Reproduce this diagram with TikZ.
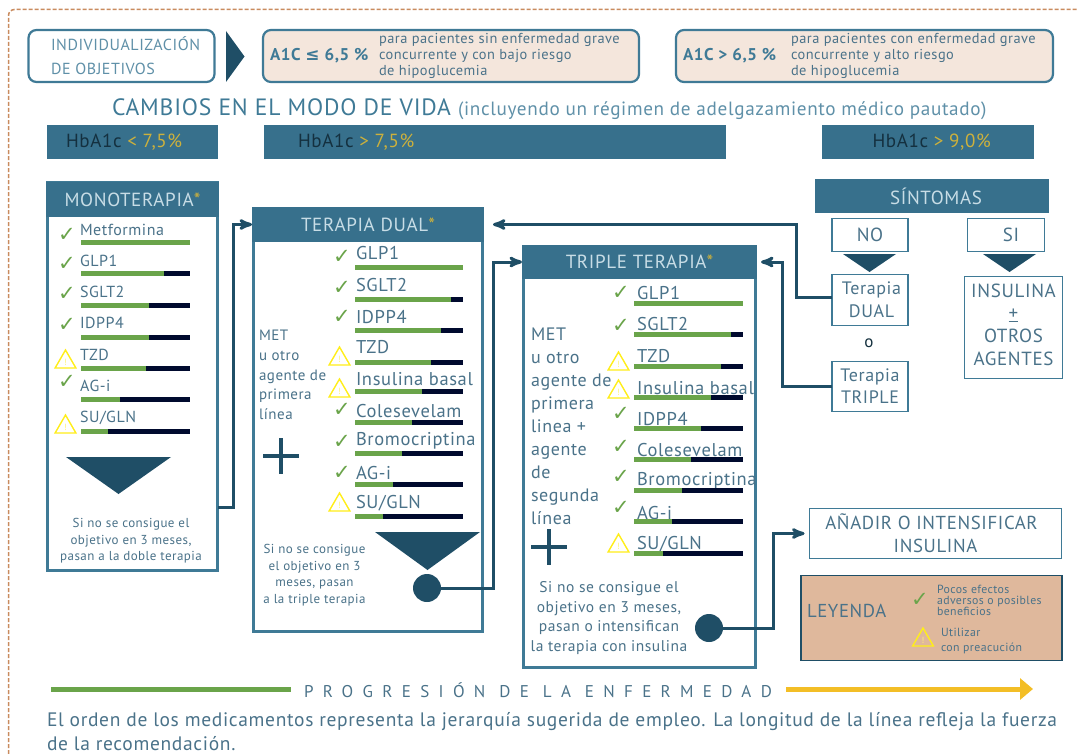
\documentclass[tikz,border=0pt]{standalone}
\usepackage{fontspec}
\setmainfont[LetterSpace=3.4]{PT Sans}
\newfontfamily\symfont{DejaVu Sans}
\newfontfamily\spacedfont[LetterSpace=55]{PT Sans}
\usepackage{tikz}
\usetikzlibrary{arrows,arrows.meta,positioning,shapes.geometric}

\definecolor{headblue}{HTML}{37708C}
\definecolor{darkblue}{HTML}{1F4E66}
\definecolor{edgeblue}{HTML}{3F7A96}
\definecolor{textblue}{HTML}{4A7289}
\definecolor{lightblue}{HTML}{5F90A8}
\definecolor{headtext}{HTML}{C8DDE6}
\definecolor{hbatext}{HTML}{14303F}
\definecolor{staryellow}{HTML}{CDB13C}
\definecolor{bargreen}{HTML}{6AA44A}
\definecolor{barnavy}{HTML}{000A2E}
\definecolor{warnyellow}{HTML}{FFEE1A}
\definecolor{pillfill}{HTML}{F4E6DC}
\definecolor{legendfill}{HTML}{DFB89C}
\definecolor{dashorange}{HTML}{C98B5E}
\definecolor{arrowyellow}{HTML}{F3BE26}

\tikzset{
  sz/.style 2 args={font=\fontsize{#1}{#2}\selectfont},
  txt/.style={inner sep=0pt,outer sep=0pt,text=textblue},
  lefttxt/.style={txt,anchor=west,align=left},
  midtxt/.style={txt,align=center},
  pill/.style={anchor=north west,rounded corners=8pt,draw=edgeblue,line width=2.2pt,inner sep=0pt,outer sep=0pt,minimum height=52pt},
  band/.style={anchor=north west,fill=headblue,inner sep=0pt,outer sep=0pt,text=headtext},
  panel/.style={anchor=north west,draw=edgeblue,fill=white,line width=3pt,inner sep=0pt,outer sep=0pt},
  tagbox/.style={anchor=north west,draw=edgeblue,line width=1.5pt,inner sep=0pt,outer sep=0pt,text=textblue,align=center},
  okmark/.style={inner sep=0pt,outer sep=0pt,text=bargreen,font=\symfont\fontsize{21}{21}\selectfont},
  warnmark/.style={regular polygon,regular polygon sides=3,minimum size=24pt,inner sep=0pt,outer sep=0pt,draw=warnyellow,line width=1.4pt,text=warnyellow!60!white,font=\fontsize{9}{9}\selectfont},
  pointer/.style={fill=darkblue},
  dot/.style={circle,fill=darkblue,minimum size=28pt,inner sep=0pt,outer sep=0pt},
  link/.style={->,>=stealth',draw=darkblue,line width=3pt,rounded corners=0pt}
}

\begin{document}
\begin{tikzpicture}[x=1pt,y=-1pt]
  \useasboundingbox (0,0) rectangle (1078,754);

  \draw[dashorange,line width=1.5pt,dash pattern=on 4pt off 2pt,rounded corners=6pt] (8.5,754) -- (8.5,9.5) -- (1078,9.5);

  \node [pill,minimum width=186pt,fill=white] (goals) at (28.5,30) {};
  \node [lefttxt,sz={16}{24},text=lightblue] (goalstxt) [right=22.5pt of goals.west] {INDIVIDUALIZACIÓN\\DE OBJETIVOS};
  \fill[pointer] (226,31) -- (244.5,56.5) -- (226,82) -- cycle;

  \node [pill,minimum width=376pt,fill=pillfill] (pilla) at (263,30) {};
  \node [lefttxt,sz={17}{17},text=edgeblue] (pillaval) [right=7pt of pilla.west] {\bfseries A1C {\symfont ≤} 6,5 \%};
  \node [lefttxt,sz={14.4}{16.3}] (pillatxt) [right=116pt of pilla.west] {para pacientes sin enfermedad grave\\concurrente y con bajo riesgo\\de hipoglucemia};
  \node [pill,minimum width=377pt,fill=pillfill] (pillb) at (676,30) {};
  \node [lefttxt,sz={17}{17},text=edgeblue] (pillbval) [right=7pt of pillb.west] {\bfseries A1C > 6,5 \%};
  \node [lefttxt,sz={14.4}{16.3}] (pillbtxt) [right=115pt of pillb.west] {para pacientes con enfermedad grave\\concurrente y alto riesgo\\de hipoglucemia};

  \node [lefttxt,text=edgeblue] (lifestyle) at (112,109) {\fontsize{23.6}{24}\selectfont CAMBIOS EN EL MODO DE VIDA \textcolor{lightblue}{\fontsize{19.2}{20}\selectfont (incluyendo un régimen de adelgazamiento médico pautado)}};

  \node [band,minimum width=171pt,minimum height=34pt] (hba) at (47,125) {};
  \node [lefttxt,sz={19}{19},text=hbatext] (hbatxt) [right=19pt of hba.west,yshift=-0.5pt] {HbA1c \textcolor{staryellow}{< 7,5\%}};
  \node [band,minimum width=462pt,minimum height=34pt] (hbb) at (264,125) {};
  \node [lefttxt,sz={19}{19},text=hbatext] (hbbtxt) [right=34pt of hbb.west,yshift=-0.5pt] {HbA1c \textcolor{staryellow}{> 7,5\%}};
  \node [band,minimum width=212pt,minimum height=34pt] (hbc) at (821.5,125) {};
  \node [lefttxt,sz={19}{19},text=hbatext] (hbctxt) [right=51pt of hbc.west,yshift=-0.5pt] {HbA1c \textcolor{staryellow}{> 9,0\%}};

  \node [panel,minimum width=170pt,minimum height=387pt] (mono) at (47.5,183) {};
  \node [band,minimum width=173pt,minimum height=35pt,sz={19}{19}] (monohead) at (46,182) {MONOTERAPIA\textcolor{staryellow}{*}};
  \foreach \lab/\ly/\by/\gx [count=\i] in {Metformina/230/240/190,GLP1/261/271/164,SGLT2/292/303/149,IDPP4/323/335/149,TZD/355/366/146,AG-i/386/397/120,{SU/GLN}/418/429/108}{
    \node [lefttxt,sz={16}{16}] (monolab\i) at (80,\ly) {\lab};
    \fill[barnavy] (81,\by) rectangle (190,\by+5);
    \fill[bargreen] (81,\by) rectangle (\gx,\by+5);
  }
  \foreach \y [count=\i] in {235,264,294,325,382}{
    \node [okmark] (monook\i) at (67,\y) {✓};
  }
  \foreach \y [count=\i] in {362,427}{
    \node [warnmark] (monowarn\i) at (65.5,\y) {!};
  }
  \fill[pointer] (66,457) -- (171,457) -- (118.5,494) -- cycle;
  \node [midtxt,sz={13}{16.5}] (monotxt) at (131,541) {Si no se consigue el\\objetivo en 3 meses,\\pasan a la doble terapia};
  \coordinate (monoout) at (218,507);

  \node [panel,minimum width=229pt,minimum height=423pt] (dual) at (253.5,208.5) {};
  \node [band,minimum width=232pt,minimum height=35pt,sz={19}{19}] (dualhead) at (252,207) {TERAPIA DUAL\textcolor{staryellow}{*}};
  \foreach \lab/\ly/\by/\gx [count=\i] in {GLP1/253/265/463,SGLT2/285/297/451,IDPP4/317/328/441,TZD/347/360/431,Insulina basal/379/389/422,Colesevelam/411/420/412,Bromocriptina/441/451/402,AG-i/473/482/393,{SU/GLN}/503/514/383}{
    \node [lefttxt,sz={18.5}{18.5}] (duallab\i) at (356,\ly) {\lab};
    \fill[barnavy] (355,\by) rectangle (463,\by+5);
    \fill[bargreen] (355,\by) rectangle (\gx,\by+5);
  }
  \foreach \y [count=\i] in {257,288,317,410,442,473}{
    \node [okmark] (dualok\i) at (342,\y) {✓};
  }
  \foreach \y [count=\i] in {359,391,505}{
    \node [warnmark] (dualwarn\i) at (339.5,\y) {!};
  }
  \node [lefttxt,sz={15}{19.7}] (dualmet) at (259,375) {MET\\u otro\\agente de\\primera\\línea};
  \draw[pointer,draw=darkblue,line width=4pt] (263,456) -- (299,456) (281,438) -- (281,474);
  \fill[pointer] (375,532) -- (480,532) -- (427.5,570) -- cycle;
  \node [dot] (dualdot) at (427,588) {};
  \node [midtxt,sz={13}{16.5}] (dualtxt) at (314.5,575) {Si no se consigue\\el objetivo en 3\\meses, pasan\\a la triple terapia};

  \node [panel,minimum width=232pt,minimum height=421pt] (triple) at (523.5,246.5) {};
  \node [band,minimum width=235pt,minimum height=34pt,sz={19}{19}] (triplehead) at (522,245) {TRIPLE TERAPIA\textcolor{staryellow}{*}};
  \foreach \lab/\ly/\by/\gx [count=\i] in {GLP1/293/301/743,SGLT2/324/332/731,TZD/356/364/721,Insulina basal/388/395/711,IDPP4/419/426/701,Colesevelam/450/457/691,Bromocriptina/481/488/682,AG-i/513/519/672,{SU/GLN}/544/551/663}{
    \node [lefttxt,sz={18.5}{18.5}] (triplelab\i) at (637,\ly) {\lab};
    \fill[barnavy] (634,\by) rectangle (743,\by+5);
    \fill[bargreen] (634,\by) rectangle (\gx,\by+5);
  }
  \foreach \y [count=\i] in {293,326,414,447,477,508}{
    \node [okmark] (tripleok\i) at (621,\y) {✓};
  }
  \foreach \y [count=\i] in {364,392,546}{
    \node [warnmark] (triplewarn\i) at (618.5,\y) {!};
  }
  \node [lefttxt,sz={18}{23}] (triplemet) at (531,426) {MET\\u otro\\agente de\\primera\\linea +\\agente\\de\\segunda\\línea};
  \draw[pointer,draw=darkblue,line width=4pt] (531,547) -- (567,547) (549,529) -- (549,565);
  \node [midtxt,sz={15.5}{19.7}] (tripletxt) at (609,618) {Si no se consigue el\\objetivo en 3 meses,\\pasan o intensifican\\la terapia con insulina};
  \node [dot] (tripledot) at (709,628) {};

  \node [band,minimum width=234pt,minimum height=34pt,sz={19}{19}] (symptoms) at (815,179) {\hspace*{8pt}SÍNTOMAS};
  \node [tagbox,minimum width=76pt,minimum height=33pt,sz={19}{19}] (no) at (832,218.5) {NO};
  \node [tagbox,minimum width=77pt,minimum height=33pt,sz={19}{19}] (yes) at (967.5,218.5) {\hspace*{10pt}SI};
  \fill[pointer] (843,254) -- (896,254) -- (869.5,272) -- cycle;
  \fill[pointer] (983,254) -- (1036,254) -- (1009.5,272) -- cycle;
  \node [tagbox,minimum width=76pt,minimum height=51pt,sz={18}{23}] (tdual) at (832,274.5) {\hspace*{3pt}Terapia\\\hspace*{3pt}DUAL};
  \node [txt,sz={17}{17},text=darkblue!60!black] (ortxt) at (869,343) {o};
  \node [tagbox,minimum width=76pt,minimum height=50pt,sz={18}{22}] (ttriple) at (832,361.5) {Terapia\\TRIPLE};
  \node [tagbox,minimum width=98pt,minimum height=102pt] (insulin) at (964.5,276.5) {};
  \node [midtxt,sz={19}{22.7},yshift=3pt] (insulintxt) at (insulin.center) {INSULINA\\\underline{+}\\OTROS\\AGENTES};
  \node [tagbox,minimum width=252pt,minimum height=50pt,sz={18.8}{23}] (addins) at (809.5,508.5) {AÑADIR O INTENSIFICAR\hspace*{8pt}\\INSULINA};

  \node [anchor=north west,draw=darkblue,fill=legendfill,line width=1.5pt,minimum width=261pt,minimum height=85pt,inner sep=0pt,outer sep=0pt] (legend) at (801,575.5) {};
  \node [lefttxt,sz={18.7}{18.7}] (legendtxt) [right=6pt of legend.west,yshift=7pt] {LEYENDA};
  \node [okmark] (legendok) at (920,600) {✓};
  \node [lefttxt,sz={11.8}{11}] (legendoktxt) at (937,600) {Pocos efectos\\adversos o posibles\\beneficios};
  \node [warnmark] (legendwarn) at (923,640) {!};
  \node [lefttxt,sz={11.8}{15}] (legendwarntxt) at (941,640.5) {Utilizar\\con preacución};

  \node [txt,sz={17}{17},text=textblue] (progress) at (538,690) {\spacedfont PROGRESIÓN DE LA ENFERMEDAD};
  \coordinate (progstart) at (51,689);
  \coordinate (progend) at (1033,689);
  \draw[bargreen,line width=5pt] (progstart) -- (291,689);
  \draw[arrowyellow,line width=5pt,-{Triangle[length=13pt,width=21pt]}] (786,689) -- (progend);
  \node [lefttxt,sz={19.5}{23.5},text=textblue] (footnote) at (47,731.5) {El orden de los medicamentos representa la jerarquía sugerida de empleo. La longitud de la línea refleja la fuerza\\de la recomendación.};

  \draw[link] (monoout) -- ++(15,0) |- (dualhead.west);
  \draw[link] (dualdot.east) -- ++(52,0) |- (triplehead.west);
  \draw[link,shorten >=9pt] ([yshift=3pt]tdual.west) -- ++(-36,0) |- (dualhead.east);
  \draw[link,shorten >=4pt] (ttriple.west) -- ++(-50,0) |- (triplehead.east);
  \draw[link,shorten >=5pt] (tripledot.east) -- ++(50,0) |- (addins.west);
\end{tikzpicture}
\end{document}
